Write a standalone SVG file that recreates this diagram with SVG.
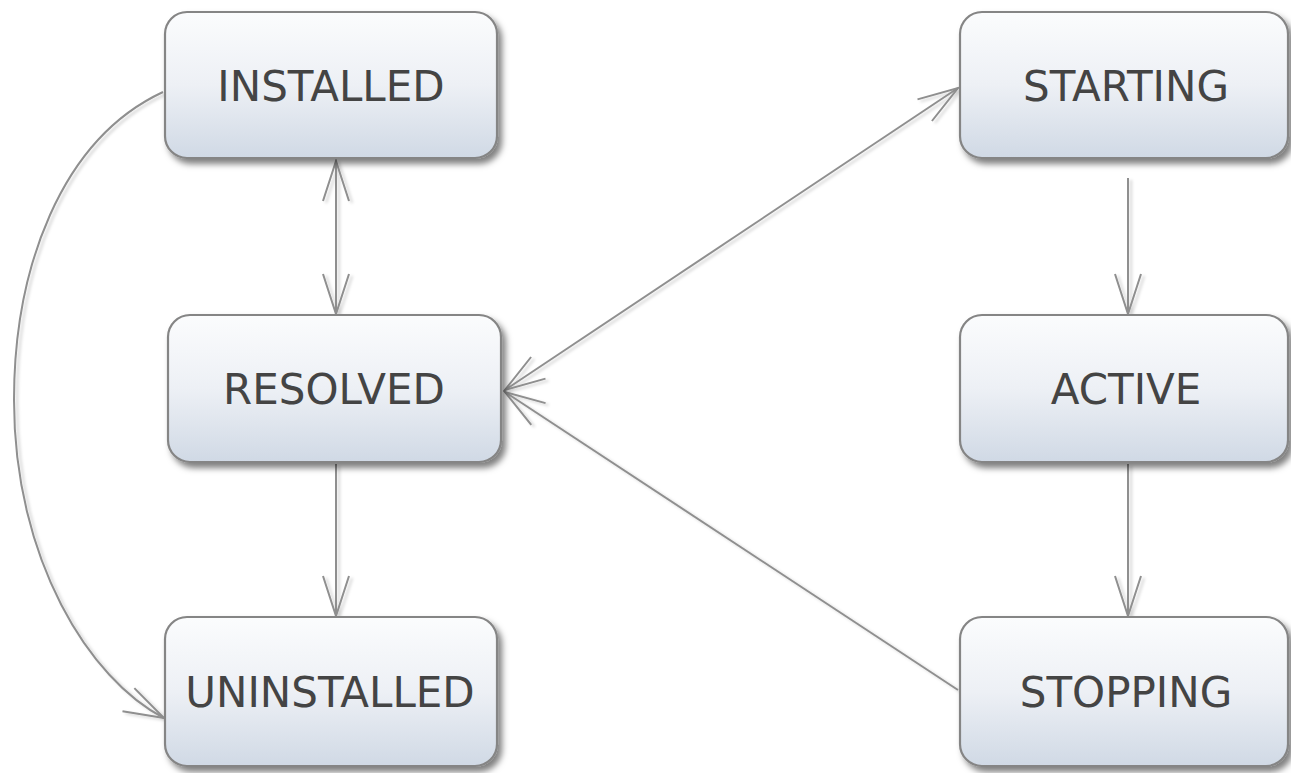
<svg xmlns="http://www.w3.org/2000/svg" width="1291" height="773" viewBox="0 0 1291 773">
<style>
.box{fill:url(#g);stroke:#858585;stroke-width:2.2;filter:url(#sh)}
.lbl{font-family:"DejaVu Sans","Verdana",sans-serif;font-size:42px;fill:#444;text-anchor:middle}
.ln{fill:none;stroke:#8f8f8f;stroke-width:2}
</style>
<defs>
<linearGradient id="g" x1="0" y1="0" x2="0" y2="1">
<stop offset="0" stop-color="#fbfcfd"/>
<stop offset="0.5" stop-color="#edf0f5"/>
<stop offset="1" stop-color="#d0d9e5"/>
</linearGradient>
<filter id="sh" x="-10%" y="-10%" width="125%" height="130%">
<feDropShadow dx="4" dy="5" stdDeviation="3.2" flood-color="#000" flood-opacity="0.5"/>
</filter>
<filter id="lsh" x="-10%" y="-10%" width="120%" height="120%">
<feDropShadow dx="3" dy="2" stdDeviation="1.5" flood-color="#000" flood-opacity="0.18"/>
</filter>
<marker id="arr" viewBox="0 -15 44 30" refX="42" refY="0" markerWidth="44" markerHeight="30" markerUnits="userSpaceOnUse" orient="auto-start-reverse">
<path d="M2,-13 L42,0 L2,13" fill="none" stroke="#8f8f8f" stroke-width="2"/>
</marker>
</defs>
<g id="connectors" filter="url(#lsh)">
<path class="ln" d="M336,161 L336,314" marker-start="url(#arr)" marker-end="url(#arr)"/>
<path class="ln" d="M336,464 L336,616" marker-end="url(#arr)"/>
<path class="ln" d="M163,92 C60,140 14,270 14,400 C14,560 90,680 164,718" marker-end="url(#arr)"/>
<path class="ln" d="M505,390 L958,88" marker-start="url(#arr)" marker-end="url(#arr)"/>
<path class="ln" d="M958,690 L505,392" marker-end="url(#arr)"/>
<path class="ln" d="M1128,178 L1128,314" marker-end="url(#arr)"/>
<path class="ln" d="M1128,464 L1128,616" marker-end="url(#arr)"/>
</g>
<g id="installed"><rect class="box" x="165" y="12" width="332" height="146" rx="22"/><text class="lbl" x="331" y="101">INSTALLED</text></g>
<g id="resolved"><rect class="box" x="168" y="315" width="333" height="147" rx="22"/><text class="lbl" x="334" y="404">RESOLVED</text></g>
<g id="uninstalled"><rect class="box" x="165" y="617" width="332" height="149" rx="22"/><text class="lbl" x="330" y="707">UNINSTALLED</text></g>
<g id="starting"><rect class="box" x="960" y="12" width="328" height="146" rx="22"/><text class="lbl" x="1126" y="101">STARTING</text></g>
<g id="active"><rect class="box" x="960" y="315" width="328" height="147" rx="22"/><text class="lbl" x="1126" y="404">ACTIVE</text></g>
<g id="stopping"><rect class="box" x="960" y="617" width="328" height="149" rx="22"/><text class="lbl" x="1126" y="707">STOPPING</text></g>
</svg>
